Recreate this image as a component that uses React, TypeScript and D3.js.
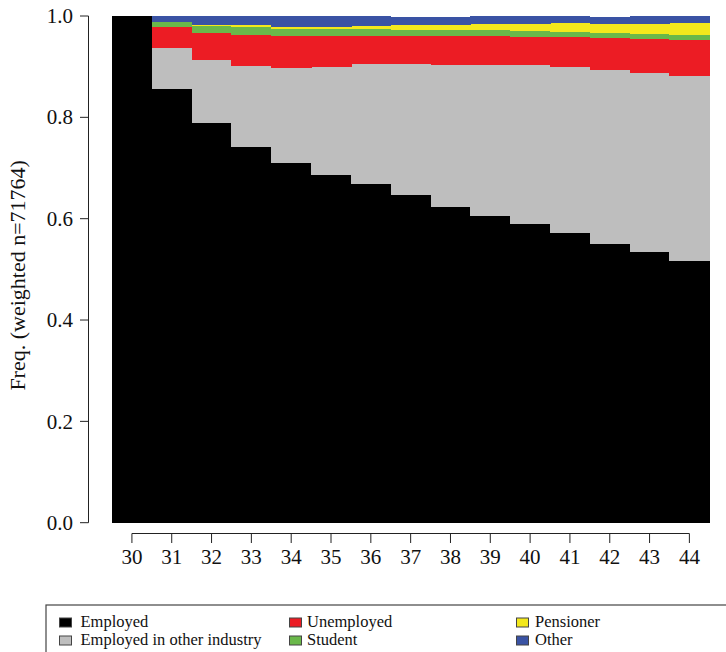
import React from "react";
import * as d3 from "d3";

const ages = [30, 31, 32, 33, 34, 35, 36, 37, 38, 39, 40, 41, 42, 43, 44];
const employed = [1.0, 0.855, 0.788, 0.741, 0.71, 0.687, 0.668, 0.646, 0.624, 0.606, 0.59, 0.571, 0.551, 0.534, 0.516];
const otherIndustry = [0, 0.082, 0.125, 0.16, 0.187, 0.212, 0.237, 0.259, 0.279, 0.297, 0.313, 0.329, 0.342, 0.354, 0.366];
const unemployed = [0, 0.042, 0.054, 0.062, 0.064, 0.062, 0.056, 0.056, 0.058, 0.058, 0.056, 0.059, 0.063, 0.066, 0.071];
const student = [0, 0.009, 0.014, 0.016, 0.014, 0.014, 0.014, 0.011, 0.011, 0.011, 0.011, 0.01, 0.0105, 0.011, 0.01];
const pensioner = [0, 0, 0.001, 0.003, 0.004, 0.004, 0.005, 0.01, 0.01, 0.013, 0.015, 0.017, 0.018, 0.02, 0.023];
const other = [0, 0.012, 0.018, 0.018, 0.021, 0.021, 0.02, 0.017, 0.017, 0.0145, 0.0145, 0.0145, 0.0145, 0.0145, 0.0145];

const stateKeys = ["employed", "otherIndustry", "unemployed", "student", "pensioner", "other"];
const stateLabels = ["Employed", "Employed in other industry", "Unemployed", "Student", "Pensioner", "Other"];
const stateColors = ["#000000", "#bebebe", "#ec1c24", "#6ab84a", "#f3e81c", "#3a53a4"];
const yTicks = [0, 0.2, 0.4, 0.6, 0.8, 1.0];

const txt = { fontFamily: '"Liberation Serif", "Times New Roman", serif' };

export default function App() {
  const series = [employed, otherIndustry, unemployed, student, pensioner, other];
  const rows = ages.map((a, i) => {
    const r: any = { age: a };
    stateKeys.forEach((k, j) => (r[k] = series[j][i]));
    return r;
  });
  const stacked = d3.stack().keys(stateKeys)(rows);

  const x = d3.scaleBand<number>().domain(ages).range([112, 709.3]).padding(0);
  const y = d3.scaleLinear().domain([0, 1]).range([522.7, 16]);

  const xc = (a: number) => (x(a) as number) + x.bandwidth() / 2;
  const yAxisX = 88.5;
  const xAxisY = 533.5;

  const legendCols = [
    { sx: 59.5, tx: 80.5 },
    { sx: 289.5, tx: 307 },
    { sx: 516.5, tx: 535 },
  ];
  const legendRows = [627, 645];

  return (
    <svg
      width={726}
      height={652}
      style={{ position: "absolute", left: 0, top: 0, background: "#fff" }}
    >
      <rect x={0} y={0} width={726} height={652} fill="#fff" />
      {stacked.map((s, j) => (
        <g key={s.key} fill={stateColors[j]} shapeRendering="crispEdges">
          {s.map((d, i) => {
            const h = y(d[0]) - y(d[1]);
            if (h <= 0) return null;
            return (
              <rect
                key={i}
                x={x(ages[i]) as number}
                y={y(d[1])}
                width={x.bandwidth() + 0.6}
                height={h}
              />
            );
          })}
        </g>
      ))}

      {/* Y axis */}
      <g stroke="#222" strokeWidth={1} fill="none">
        <line x1={yAxisX} x2={yAxisX} y1={y(0)} y2={y(1)} />
        {yTicks.map((t) => (
          <line key={t} x1={yAxisX - 8.5} x2={yAxisX} y1={y(t)} y2={y(t)} />
        ))}
      </g>
      {yTicks.map((t) => (
        <text
          key={t}
          x={73}
          y={y(t)}
          dy="0.34em"
          textAnchor="end"
          fontSize={21}
          fill="#111"
          style={txt}
        >
          {t.toFixed(1)}
        </text>
      ))}
      <text
        transform={`translate(25,${(y(0) + y(1)) / 2 + 6}) rotate(-90)`}
        textAnchor="middle"
        fontSize={22}
        fill="#111"
        style={txt}
      >
        Freq. (weighted n=71764)
      </text>

      {/* X axis */}
      <g stroke="#222" strokeWidth={1} fill="none">
        <line x1={xc(ages[0])} x2={xc(ages[ages.length - 1])} y1={xAxisY} y2={xAxisY} />
        {ages.map((a) => (
          <line key={a} x1={xc(a)} x2={xc(a)} y1={xAxisY} y2={xAxisY + 9.5} />
        ))}
      </g>
      {ages.map((a) => (
        <text key={a} x={xc(a)} y={564} textAnchor="middle" fontSize={21} fill="#111" style={txt}>
          {a}
        </text>
      ))}

      {/* Legend */}
      <rect x={46} y={605} width={760} height={100} fill="none" stroke="#444" strokeWidth={1.2} />
      {stateLabels.map((lab, j) => {
        const col = legendCols[Math.floor(j / 2)];
        const rowY = legendRows[j % 2];
        return (
          <g key={lab}>
            <rect
              x={col.sx}
              y={rowY - 9}
              width={12}
              height={9}
              fill={stateColors[j]}
              stroke="#444"
              strokeWidth={1}
            />
            <text x={col.tx} y={rowY} fontSize={16.5} fill="#111" style={txt}>
              {lab}
            </text>
          </g>
        );
      })}
    </svg>
  );
}
